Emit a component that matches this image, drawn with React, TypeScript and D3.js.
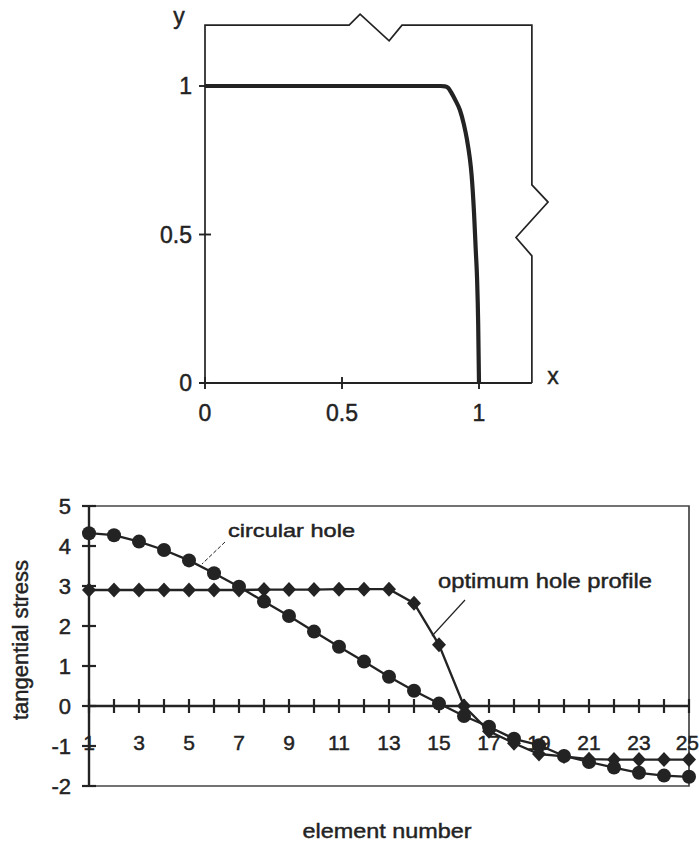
import React from "react";
import * as d3 from "d3";

// ---------- Top chart: optimum hole profile (quarter) ----------
const profileX = [0, 0.5, 0.86, 0.876, 0.888, 0.9, 0.915, 0.93, 0.945, 0.956, 0.966, 0.973, 0.982, 0.988, 0.993, 0.997, 1.0];
const profileY = [1, 1, 1, 0.999, 0.993, 0.976, 0.95, 0.92, 0.87, 0.82, 0.76, 0.7, 0.57, 0.45, 0.35, 0.2, 0];
const topTicks = [0, 0.5, 1];
const topTickLabels = ["0", "0.5", "1"];
// decorative frame with break marks (data units)
const frameTopX = [0, 0.526, 0.566, 0.672, 0.719, 1.193];
const frameTopY = [1.205, 1.205, 1.242, 1.152, 1.205, 1.205];
const frameRightX = [1.193, 1.193, 1.252, 1.135, 1.193, 1.193];
const frameRightY = [1.205, 0.667, 0.609, 0.49, 0.428, 0];

// ---------- Bottom chart: tangential stress ----------
const elements = [1, 2, 3, 4, 5, 6, 7, 8, 9, 10, 11, 12, 13, 14, 15, 16, 17, 18, 19, 20, 21, 22, 23, 24, 25];
const circularHole = [4.32, 4.27, 4.11, 3.9, 3.64, 3.32, 2.98, 2.61, 2.25, 1.86, 1.48, 1.11, 0.73, 0.38, 0.06, -0.25, -0.52, -0.82, -0.98, -1.25, -1.4, -1.54, -1.67, -1.74, -1.77];
const optimumProfile = [2.9, 2.9, 2.9, 2.9, 2.9, 2.9, 2.9, 2.91, 2.91, 2.91, 2.92, 2.92, 2.92, 2.57, 1.53, 0.0, -0.63, -0.93, -1.2, -1.26, -1.33, -1.34, -1.34, -1.34, -1.34];
const xTickLabels = [1, 3, 5, 7, 9, 11, 13, 15, 17, 19, 21, 23, 25];
const yTicks = [-2, -1, 0, 1, 2, 3, 4, 5];

const FONT = "'Liberation Sans', Arial, Helvetica, sans-serif";
const INK = "#232323";
const TS = { stroke: INK, strokeWidth: 0.45 } as const;

export default function App() {
  // top scales
  const tx = d3.scaleLinear().domain([0, 1]).range([205, 479]);
  const ty = d3.scaleLinear().domain([0, 1]).range([383, 86]);
  const profilePts = profileX.map((x, i) => [x, profileY[i]] as [number, number]);
  const profileLine = d3
    .line<[number, number]>()
    .x((d) => tx(d[0]))
    .y((d) => ty(d[1]))
    .curve(d3.curveMonotoneX);
  const frameLine = d3
    .line<[number, number]>()
    .x((d) => tx(d[0]))
    .y((d) => ty(d[1]));
  const framePts: [number, number][] = [
    [0, 0],
    ...frameTopX.map((x, i) => [x, frameTopY[i]] as [number, number]),
    ...frameRightX.slice(1).map((x, i) => [x, frameRightY[i + 1]] as [number, number]),
  ];

  // bottom scales
  const bx = d3.scaleLinear().domain([1, 25]).range([89, 689]);
  const by = d3.scaleLinear().domain([-2, 5]).range([786, 506]);
  const seriesLine = d3
    .line<number>()
    .x((_, i) => bx(elements[i]))
    .y((d) => by(d));
  const diamond = (cx: number, cy: number) =>
    `M${cx},${cy - 7.5}L${cx + 7},${cy}L${cx},${cy + 7.5}L${cx - 7},${cy}Z`;
  const lastLabel = xTickLabels[xTickLabels.length - 1];

  return (
    <div style={{ position: "absolute", left: 0, top: 0 }}>
      <svg width={699} height={841} style={{ display: "block", background: "#fff" }} fontFamily={FONT}>
        {/* ================= TOP CHART ================= */}
        <path d={frameLine(framePts) || ""} fill="none" stroke={INK} strokeWidth={1.7} strokeLinejoin="miter" />
        {/* x axis */}
        <line x1={tx(0) - 6} x2={tx(frameRightX[0])} y1={ty(0)} y2={ty(0)} stroke={INK} strokeWidth={1.9} />
        {topTicks.map((t) => (
          <line key={"tx" + t} x1={tx(t)} x2={tx(t)} y1={ty(0) - 6} y2={ty(0) + 6} stroke={INK} strokeWidth={1.9} />
        ))}
        {topTicks.map((t) => (
          <line key={"ty" + t} x1={tx(0) - 6} x2={tx(0) + 6} y1={ty(t)} y2={ty(t)} stroke={INK} strokeWidth={1.9} />
        ))}
        {topTicks.map((t, i) => (
          <text key={"txl" + t} x={tx(t)} y={421} fontSize={23} textAnchor="middle" fill={INK} {...TS}>
            {topTickLabels[i]}
          </text>
        ))}
        {topTicks.map((t, i) => (
          <text key={"tyl" + t} x={192} y={ty(t) + 8} fontSize={23} textAnchor="end" fill={INK} {...TS}>
            {topTickLabels[i]}
          </text>
        ))}
        <text x={179} y={24} fontSize={23} textAnchor="middle" fill={INK} {...TS}>y</text>
        <text x={553} y={384} fontSize={23} textAnchor="middle" fill={INK} {...TS}>x</text>
        <path d={profileLine(profilePts) || ""} fill="none" stroke={INK} strokeWidth={4.2} strokeLinecap="butt" />

        {/* ================= BOTTOM CHART ================= */}
        {/* plot area border */}
        <path
          d={`M${bx(1)},${by(5)}H${bx(25)}V${by(-2)}H${bx(1)}`}
          fill="none"
          stroke="#444"
          strokeWidth={1.7}
        />
        {/* y axis */}
        <line x1={bx(1)} x2={bx(1)} y1={by(5)} y2={by(-2)} stroke={INK} strokeWidth={2.4} />
        {yTicks.map((t) => (
          <line key={"byt" + t} x1={bx(1) - 7} x2={bx(1) + 7} y1={by(t)} y2={by(t)} stroke={INK} strokeWidth={2.2} />
        ))}
        {yTicks.map((t) => (
          <text key={"byl" + t} x={71} y={by(t) + 8} fontSize={22} textAnchor="end" fill={INK} {...TS}>
            {String(t)}
          </text>
        ))}
        {/* x axis at 0 */}
        <line x1={bx(1)} x2={bx(25)} y1={by(0)} y2={by(0)} stroke={INK} strokeWidth={2.4} />
        {elements.map((e) => (
          <line key={"bxt" + e} x1={bx(e)} x2={bx(e)} y1={by(0) - 7} y2={by(0) + 7} stroke={INK} strokeWidth={2.2} />
        ))}
        {xTickLabels.map((e) => (
          <text
            key={"bxl" + e}
            x={e === lastLabel ? 699 : bx(e)}
            y={750}
            fontSize={21}
            textAnchor={e === lastLabel ? "end" : "middle"}
            fill={INK}
            {...TS}
          >
            {String(e)}
          </text>
        ))}
        <text
          transform={`translate(28,${(by(5) + by(-2)) / 2 - 6}) rotate(-90)`}
          fontSize={22}
          textAnchor="middle"
          fill={INK}
          textLength={160}
          lengthAdjust="spacingAndGlyphs"
          {...TS}
        >
          tangential stress
        </text>
        <text x={387} y={838} fontSize={21} textAnchor="middle" fill={INK} textLength={169} lengthAdjust="spacingAndGlyphs" {...TS}>
          element number
        </text>

        {/* series lines */}
        <path d={seriesLine(optimumProfile) || ""} fill="none" stroke={INK} strokeWidth={2.3} />
        <path d={seriesLine(circularHole) || ""} fill="none" stroke={INK} strokeWidth={2.3} />
        {optimumProfile.map((v, i) => (
          <path key={"dm" + i} d={diamond(bx(elements[i]), by(v))} fill={INK} />
        ))}
        {circularHole.map((v, i) => (
          <circle key={"ci" + i} cx={bx(elements[i])} cy={by(v)} r={7} fill={INK} />
        ))}

        {/* annotations */}
        <text x={228} y={537} fontSize={19} fill={INK} textLength={127} lengthAdjust="spacingAndGlyphs" {...TS}>
          circular hole
        </text>
        <line x1={225} y1={542} x2={202} y2={564} stroke={INK} strokeWidth={1} strokeDasharray="4,2" />
        <text x={438} y={588} fontSize={21} fill={INK} textLength={214} lengthAdjust="spacingAndGlyphs" {...TS}>
          optimum hole profile
        </text>
        <line x1={465} y1={600} x2={432} y2={636} stroke={INK} strokeWidth={1.2} />
      </svg>
    </div>
  );
}
